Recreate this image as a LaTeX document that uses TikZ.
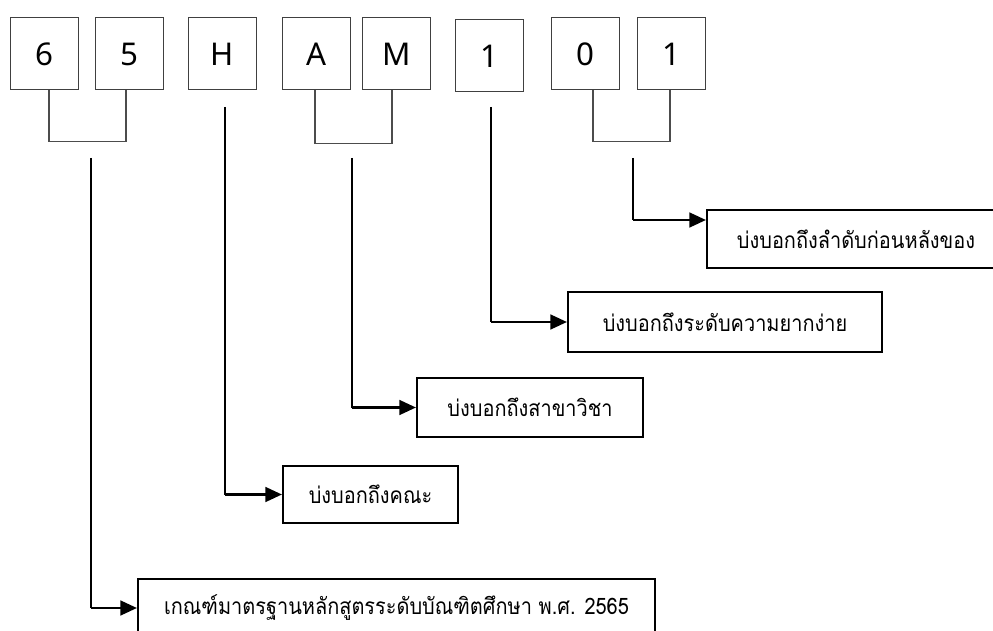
\documentclass[tikz,border=0pt]{standalone}
\usepackage{fontspec}
\usetikzlibrary{arrows.meta,calc}
\newfontfamily\thaifont[Script=Thai,FakeStretch=0.88]{Loma}
\newfontfamily\latfont{Noto Sans}
\begin{document}
\begin{tikzpicture}[x=0.75pt,y=-0.75pt,
  digit/.style={draw=black!75, line width=0.75pt, minimum width=51pt, minimum height=54pt, inner sep=0pt, font=\latfont\fontsize{23.5}{28}\selectfont},
  thaibox/.style={draw=black, line width=1.5pt, inner sep=0pt, font=\thaifont\fontsize{17}{20}\selectfont},
  bracket/.style={draw=black!70, line width=0.8pt},
  link/.style={draw=black, line width=1.1pt},
  arr/.style={draw=black, line width=2pt, -{Triangle[length=12.5pt,width=11pt]}}
]
\useasboundingbox (0,0) rectangle (993,631);
\clip (0,0) rectangle (993,631);
\fill[white] (0,0) rectangle (993,631);

% top code boxes
\node[digit] (b6) at (44,54) {6};
\node[digit] (b5) at (129.5,54) {5};
\node[digit] (bH) at (222,54) {H};
\node[digit] (bA) at (316.5,54) {A};
\node[digit] (bM) at (396.5,54) {M};
\node[digit] (b1) at (489.5,56) {1};
\node[digit] (b0) at (585.5,54) {0};
\node[digit] (b1b) at (671.5,54) {1};

% brackets
\draw[bracket] ($(b6.south)+(5,0)$) -- ++(0,51) -| ($(b5.south)+(-3.5,0)$);
\draw[bracket] ($(bA.south)+(-1.5,0)$) -- ++(0,53) -| ($(bM.south)+(-4.5,0)$);
\draw[bracket] ($(b0.south)+(7.5,0)$) -- ++(0,51) -| ($(b1b.south)+(-1.5,0)$);

% free line starts
\coordinate (s65) at (91,158);
\coordinate (sH) at (225,107);
\coordinate (sAM) at (352,158);
\coordinate (s1) at (491,107);
\coordinate (s01) at (633,158);

% explanation boxes
\node[thaibox, minimum width=223.5pt, minimum height=43.5pt] (tA) at (856,239) {บ่งบอกถึงลำดับก่อนหลังของ};
\node[thaibox, minimum width=235.5pt, minimum height=45pt] (tB) at (725,322) {บ่งบอกถึงระดับความยากง่าย};
\node[thaibox, minimum width=169.5pt, minimum height=44.25pt] (tC) at (530,407.5) {บ่งบอกถึงสาขาวิชา};
\node[thaibox, minimum width=131.25pt, minimum height=42.75pt] (tD) at (370.5,494.5) {บ่งบอกถึงคณะ};
\node[thaibox, minimum width=387.75pt, minimum height=43.5pt] (tE) at (396.5,608) {เกณฑ์มาตรฐานหลักสูตรระดับบัณฑิตศึกษา พ.ศ. 2565};

\coordinate (eA) at ($(tA.north west)+(0,11)$);

% connectors
\draw[link] (s01) -- (s01 |- eA);
\draw[arr] (s01 |- eA) -- (eA);
\draw[link] (s1) -- (s1 |- tB.west);
\draw[arr] (s1 |- tB.west) -- (tB.west);
\draw[link] (sAM) -- (sAM |- tC.west);
\draw[arr] (sAM |- tC.west) -- (tC.west);
\draw[link] (sH) -- (sH |- tD.west);
\draw[arr] (sH |- tD.west) -- (tD.west);
\draw[link] (s65) -- (s65 |- tE.west);
\draw[arr] (s65 |- tE.west) -- (tE.west);
\end{tikzpicture}
\end{document}
